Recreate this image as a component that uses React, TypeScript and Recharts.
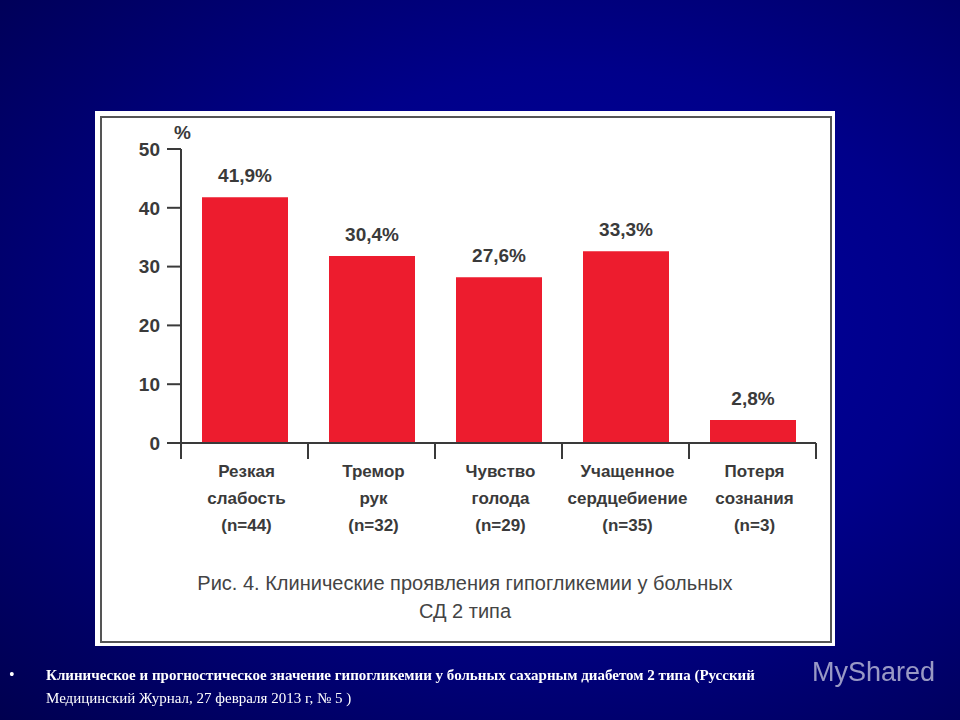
import { BarChart, Bar, XAxis, YAxis, LabelList } from "recharts";

const categories = [
  ["Резкая", "слабость", "(n=44)"],
  ["Тремор", "рук", "(n=32)"],
  ["Чувство", "голода", "(n=29)"],
  ["Учащенное", "сердцебиение", "(n=35)"],
  ["Потеря", "сознания", "(n=3)"],
];
// bar heights as drawn in the figure, they differ a bit from the printed labels
const barHeights = [41.8, 31.8, 28.2, 32.6, 3.9];
const barLabels = ["41,9%", "30,4%", "27,6%", "33,3%", "2,8%"];
const yTicks = [0, 10, 20, 30, 40, 50];
const caption = [
  "Рис. 4. Клинические проявления гипогликемии у больных",
  "СД 2 типа",
];
const footerBold = "Клиническое и прогностическое значение гипогликемии у больных сахарным диабетом 2 типа (Русский";
const footerPlain = "Медицинский Журнал, 27 февраля 2013 г, № 5 )";

const data = categories.map((lines, i) => ({
  key: String(i),
  lines,
  value: barHeights[i],
  label: barLabels[i],
}));

const INK = "#3a3a3a";
const SANS = "'Liberation Sans', Arial, sans-serif";
const SERIF = "'Liberation Serif', 'Times New Roman', serif";
const HALF_BAND = 63.5;

function CategoryTick({ x, y, index }: any) {
  const lines = categories[index];
  return (
    <g>
      <line x1={x - HALF_BAND} x2={x - HALF_BAND} y1={y - 8} y2={y + 8} stroke={INK} strokeWidth={2} />
      {index === categories.length - 1 && (
        <line x1={x + HALF_BAND} x2={x + HALF_BAND} y1={y - 8} y2={y + 8} stroke={INK} strokeWidth={2} />
      )}
      {lines.map((line: string, i: number) => (
        <text
          key={line}
          x={x + 2}
          y={y + 26 + i * 27}
          textAnchor="middle"
          fontFamily={SANS}
          fontWeight="bold"
          fontSize={17}
          fill={INK}
        >
          {line}
        </text>
      ))}
    </g>
  );
}

export default function App() {
  return (
    <div
      style={{
        position: "fixed",
        top: 0,
        left: 0,
        width: 960,
        height: 720,
        overflow: "hidden",
        background: "radial-gradient(ellipse at 60% 45%, #0000a0 0%, #00008a 45%, #000050 100%)",
      }}
    >
      <div style={{ position: "absolute", left: 95, top: 111, width: 740, height: 535, background: "#fff" }} />
      <div
        style={{
          position: "absolute",
          left: 100,
          top: 116,
          width: 728,
          height: 523,
          border: "2px solid #555",
        }}
      />
      <div style={{ position: "absolute" }}>
        <BarChart
          width={960}
          height={720}
          data={data}
          margin={{ top: 149, right: 144, bottom: 0, left: 0 }}
          barCategoryGap={0}
        >
          <XAxis
            dataKey="key"
            height={277}
            interval={0}
            axisLine={{ stroke: INK, strokeWidth: 2 }}
            tickLine={false}
            tick={<CategoryTick />}
          />
          <YAxis
            width={181}
            domain={[0, 50]}
            ticks={yTicks}
            tickSize={14}
            tickMargin={7}
            axisLine={{ stroke: INK, strokeWidth: 2 }}
            tickLine={{ stroke: INK, strokeWidth: 2 }}
            tick={{ fill: INK, fontFamily: SANS, fontWeight: "bold", fontSize: 19 }}
          />
          <Bar dataKey="value" fill="#ed1c2e" barSize={86} isAnimationActive={false}>
            <LabelList
              dataKey="label"
              position="top"
              offset={15}
              fill={INK}
              fontFamily={SANS}
              fontWeight="bold"
              fontSize={19}
            />
          </Bar>
        </BarChart>
      </div>
      <div
        style={{
          position: "absolute",
          left: 174,
          top: 122,
          fontFamily: SANS,
          fontWeight: "bold",
          fontSize: 19,
          color: INK,
        }}
      >
        %
      </div>
      {caption.map((line, i) => (
        <div
          key={line}
          style={{
            position: "absolute",
            left: 95,
            width: 740,
            top: 572 + i * 28,
            textAlign: "center",
            fontFamily: SANS,
            fontSize: 20,
            color: "#444",
            whiteSpace: "nowrap",
          }}
        >
          {line}
        </div>
      ))}
      <div style={{ position: "absolute", left: 9, top: 666, color: "#fff", fontFamily: SERIF, fontSize: 16 }}>•</div>
      <div
        style={{
          position: "absolute",
          left: 46,
          top: 667,
          color: "#fff",
          fontFamily: SERIF,
          fontWeight: "bold",
          fontSize: 15,
          whiteSpace: "nowrap",
        }}
      >
        {footerBold}
      </div>
      <div
        style={{
          position: "absolute",
          left: 46,
          top: 690,
          color: "#fff",
          fontFamily: SERIF,
          fontSize: 15,
          whiteSpace: "nowrap",
        }}
      >
        {footerPlain}
      </div>
      <div
        style={{
          position: "absolute",
          left: 812,
          top: 657,
          color: "rgba(255,255,255,0.6)",
          fontFamily: SANS,
          fontSize: 27,
          whiteSpace: "nowrap",
        }}
      >
        MyShared
      </div>
    </div>
  );
}
